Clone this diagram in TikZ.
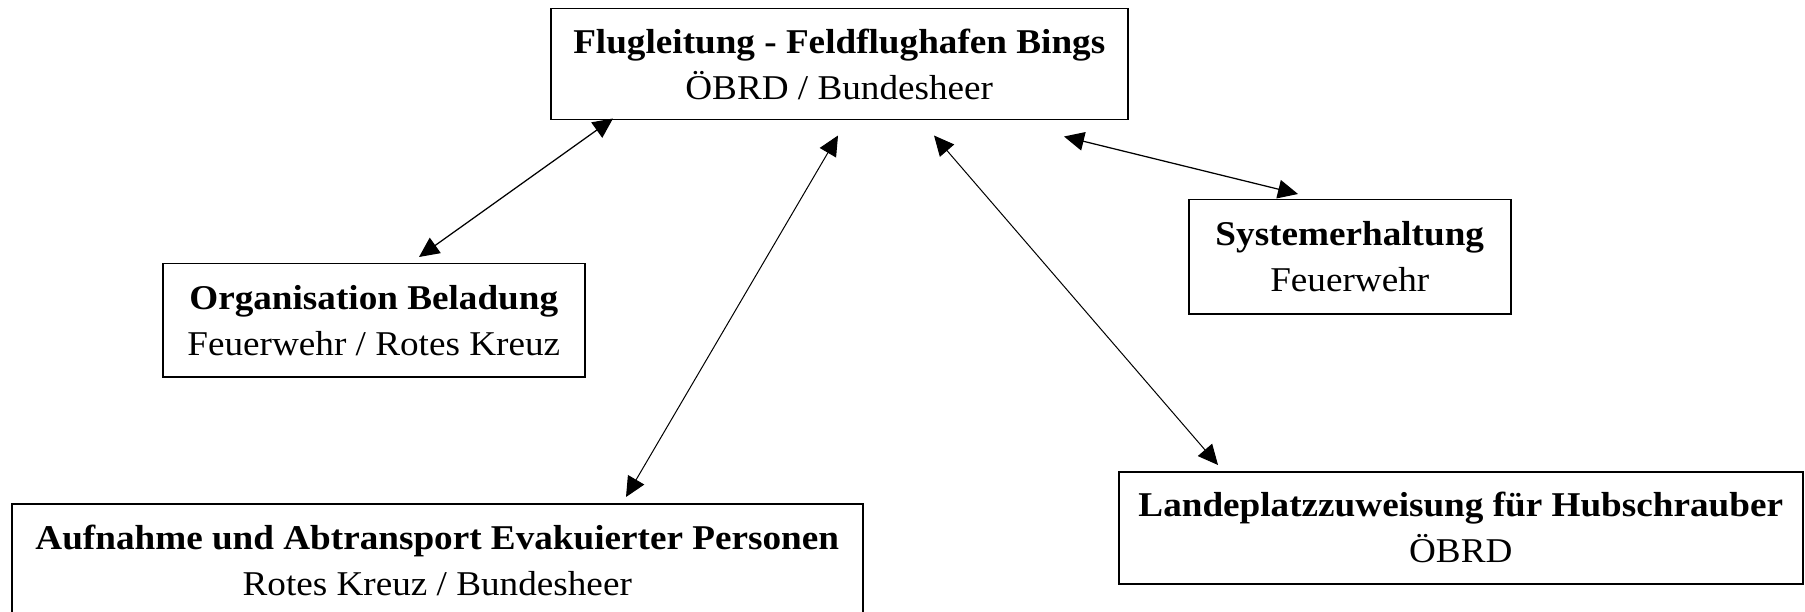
\documentclass[tikz,border=0pt]{standalone}
\usepackage{fontspec}
\setmainfont{Liberation Serif}[FakeStretch=1.07]
\usetikzlibrary{arrows.meta,calc}
\begin{document}
\begin{tikzpicture}[x=0.4pt,y=-0.4pt,
  box/.style={draw, line width=0.6pt, anchor=north west, inner sep=0pt, align=center,
              font=\fontsize{13.9}{18.4}\selectfont},
  link/.style={line width=0.5pt, {Triangle[length=8pt,width=7.5pt]}-{Triangle[length=8pt,width=7.5pt]}},
  thinlink/.style={link, line width=0.4pt}]
\useasboundingbox (0,0) rectangle (1805,612);
\clip (0,0) rectangle (1805,612);
\fill[white] (0,0) rectangle (1805,612);

\node[box, minimum width=230.8pt, minimum height=44.4pt] (F) at (550,8)
  {\textbf{Flugleitung - Feldflughafen Bings}\\ÖBRD / Bundesheer};
\node[box, minimum width=168.8pt, minimum height=45.2pt] (O) at (162,263)
  {\textbf{Organisation Beladung}\\Feuerwehr / Rotes Kreuz};
\node[box, minimum width=128.8pt, minimum height=45.6pt] (S) at (1188,199)
  {\textbf{Systemerhaltung}\\Feuerwehr};
\node[box, minimum width=273.6pt, minimum height=44.8pt] (L) at (1118,471)
  {\textbf{Landeplatzzuweisung für Hubschrauber}\\ÖBRD};
\node[box, minimum width=340.4pt, minimum height=45.2pt] (A) at (11,503)
  {\textbf{Aufnahme und Abtransport Evakuierter Personen}\\Rotes Kreuz / Bundesheer};

\coordinate (fo1) at ($(F.south west)+(63,-2)$);
\coordinate (fo2) at ($(O.north west)+(257,-6)$);
\coordinate (fa1) at ($(F.south west)+(288,15)$);
\coordinate (fa2) at ($(A.north west)+(615,-6)$);
\coordinate (fl1) at ($(F.south west)+(384,15)$);
\coordinate (fl2) at ($(L.north west)+(100,-6)$);
\coordinate (fs1) at ($(F.south west)+(514,16)$);
\coordinate (fs2) at ($(S.north west)+(110,-5)$);

\draw[link] (fo1) -- (fo2);
\draw[thinlink] (fa1) -- (fa2);
\draw[thinlink] (fl1) -- (fl2);
\draw[link] (fs1) -- (fs2);
\end{tikzpicture}
\end{document}
